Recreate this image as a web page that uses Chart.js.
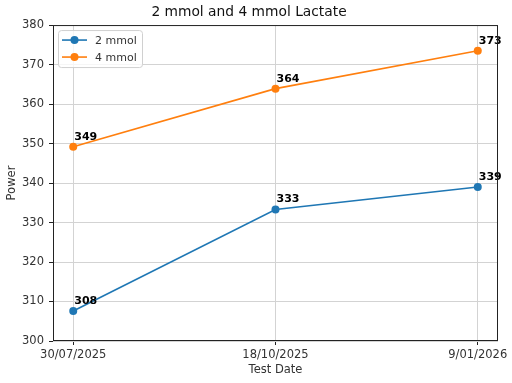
<!DOCTYPE html>
<html>
<head>
<meta charset="utf-8">
<script src="https://cdn.jsdelivr.net/npm/chart.js@4"></script>
<style>
  html, body { margin: 0; padding: 0; background: #fff; }
  #wrap { width: 512px; height: 383px; }
</style>
</head>
<body>
<div id="wrap"><canvas id="lactate"></canvas></div>
<script>
// test dates and power at each lactate threshold
const testDates = ["30/07/2025", "18/10/2025", "9/01/2026"];
const power2mmol = [307.6, 333.3, 339.0];
const power4mmol = [349.2, 363.9, 373.5];
const yTicks = [300, 310, 320, 330, 340, 350, 360, 370, 380];

const blue = "#1f77b4";
const orange = "#ff7f0e";

Chart.defaults.font.family = "'DejaVu Sans', sans-serif";
Chart.defaults.color = "#333";

function toPoints(arr) {
  return arr.map((v, i) => ({ x: i, y: v }));
}

// bold value labels above each marker
const valueLabels = {
  id: "valueLabels",
  afterDatasetsDraw(chart) {
    const ctx = chart.ctx;
    ctx.save();
    ctx.font = "bold 11px 'DejaVu Sans'";
    ctx.fillStyle = "#000";
    ctx.textAlign = "left";
    ctx.textBaseline = "alphabetic";
    chart.data.datasets.forEach((ds, di) => {
      chart.getDatasetMeta(di).data.forEach((pt, i) => {
        ctx.fillText(String(Math.floor(ds.data[i].y + 0.5 - 0.001)), pt.x + 1, pt.y - 7);
      });
    });
    ctx.restore();
  }
};

// box around plot + legend inside top-left corner
const frameAndLegend = {
  id: "frameAndLegend",
  afterDraw(chart) {
    const ctx = chart.ctx;
    const a = chart.chartArea;
    ctx.save();
    ctx.strokeStyle = "#222";
    ctx.lineWidth = 1;
    ctx.strokeRect(a.left + 0.5, a.top + 0.5, a.right - a.left - 1, a.bottom - a.top - 1);

    const bx = a.left + 5, by = a.top + 5, bw = 84, bh = 37;
    ctx.beginPath();
    ctx.roundRect(bx + 0.5, by + 0.5, bw, bh, 3);
    ctx.fillStyle = "rgba(255,255,255,0.8)";
    ctx.fill();
    ctx.strokeStyle = "#d0d0d0";
    ctx.stroke();

    ctx.font = "11px 'DejaVu Sans'";
    ctx.textBaseline = "middle";
    chart.data.datasets.forEach((ds, i) => {
      const y = by + 10 + i * 17;
      ctx.strokeStyle = ds.borderColor;
      ctx.lineWidth = 1.6;
      ctx.beginPath();
      ctx.moveTo(bx + 4, y);
      ctx.lineTo(bx + 29, y);
      ctx.stroke();
      ctx.fillStyle = ds.backgroundColor;
      ctx.beginPath();
      ctx.arc(bx + 16.5, y, 4, 0, Math.PI * 2);
      ctx.fill();
      ctx.fillStyle = "#333";
      ctx.fillText(ds.label, bx + 37, y + 1);
    });
    ctx.restore();
  }
};

new Chart(document.getElementById("lactate"), {
  type: "line",
  data: {
    datasets: [
      {
        label: "2 mmol",
        data: toPoints(power2mmol),
        borderColor: blue,
        backgroundColor: blue,
        borderWidth: 1.6,
        pointRadius: 4,
        pointHoverRadius: 4,
        pointBorderWidth: 0
      },
      {
        label: "4 mmol",
        data: toPoints(power4mmol),
        borderColor: orange,
        backgroundColor: orange,
        borderWidth: 1.6,
        pointRadius: 4,
        pointHoverRadius: 4,
        pointBorderWidth: 0
      }
    ]
  },
  options: {
    responsive: true,
    maintainAspectRatio: false,
    animation: false,
    layout: { padding: { left: 0, right: 14, top: 0, bottom: 0 } },
    plugins: {
      legend: { display: false },
      tooltip: { enabled: false },
      title: {
        display: true,
        text: "2 mmol and 4 mmol Lactate",
        color: "#111",
        font: { size: 13.8, weight: "normal" },
        padding: { top: 4.5, bottom: 4 }
      }
    },
    scales: {
      x: {
        type: "linear",
        min: -0.1,
        max: 2.1,
        afterBuildTicks(scale) {
          scale.ticks = testDates.map((d, i) => ({ value: i }));
        },
        afterFit(scale) {
          scale.height = 42;
          scale.paddingLeft = 0;
          scale.paddingRight = 0;
        },
        ticks: {
          callback: (v) => testDates[v],
          font: { size: 11.5 },
          color: "#333",
          padding: 3,
          maxRotation: 0,
          autoSkip: false
        },
        grid: { color: "#d3d3d3", tickColor: "#222", tickLength: 4 },
        border: { display: false },
        title: {
          display: true,
          text: "Test Date",
          font: { size: 11.5 },
          color: "#333",
          padding: { top: 0, bottom: 6 }
        }
      },
      y: {
        min: 300,
        max: 380,
        afterBuildTicks(scale) {
          scale.ticks = yTicks.map((v) => ({ value: v }));
        },
        afterFit(scale) {
          scale.width = 53;
          scale.paddingTop = 0;
          scale.paddingBottom = 0;
        },
        ticks: { font: { size: 11.5 }, color: "#333", padding: 5 },
        grid: { color: "#d3d3d3", tickColor: "#222", tickLength: 4 },
        border: { display: false },
        title: {
          display: true,
          text: "Power",
          font: { size: 11.5 },
          color: "#333",
          padding: { top: 5, bottom: 0 }
        }
      }
    }
  },
  plugins: [valueLabels, frameAndLegend]
});
</script>
</body>
</html>
